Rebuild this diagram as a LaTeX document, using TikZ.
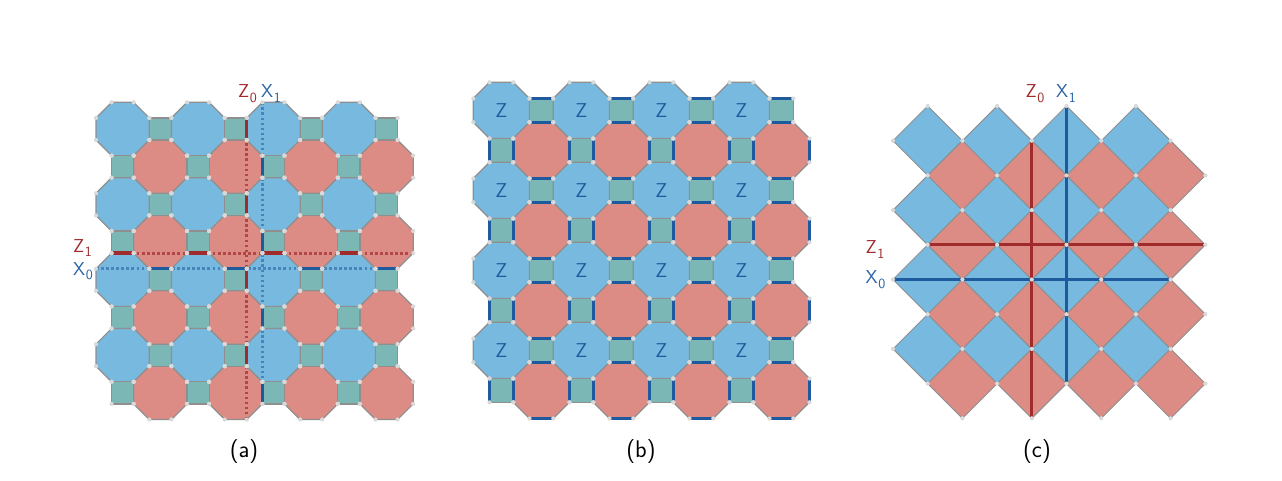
\documentclass[tikz,border=0pt]{standalone}
\definecolor{octblue}{HTML}{78B9DF}
\definecolor{octred}{HTML}{DD8C85}
\definecolor{octteal}{HTML}{7BB7B4}
\definecolor{edgegray}{HTML}{8F8F8F}
\definecolor{dotgray}{HTML}{D9D9D9}
\definecolor{darkred}{HTML}{A02B2C}
\definecolor{darkblue}{HTML}{1F5A9E}
\newcommand{\octshape}[5]{% x y a s style
  \path[#5] ({#1+#3},{#2}) -- ({#1+#3+#4},{#2}) -- ({#1+2*#3+#4},{#2+#3}) -- ({#1+2*#3+#4},{#2+#3+#4})
    -- ({#1+#3+#4},{#2+2*#3+#4}) -- ({#1+#3},{#2+2*#3+#4}) -- ({#1},{#2+#3+#4}) -- ({#1},{#2+#3}) -- cycle;}
\newcommand{\octdots}[4]{% x y a s
  \foreach \px/\py in {{#3}/0,{#3+#4}/0,{2*#3+#4}/{#3},{2*#3+#4}/{#3+#4},{#3+#4}/{2*#3+#4},{#3}/{2*#3+#4},0/{#3+#4},0/{#3}}
    {\fill[dotgray] ({#1+\px},{#2+\py}) circle[radius=2.1];}}
\newcommand{\sqshape}[4]{% x y s style
  \path[#4] ({#1},{#2}) rectangle ({#1+#3},{#2+#3});}
\newcommand{\sqdots}[3]{%
  \foreach \px/\py in {0/0,{#3}/0,0/{#3},{#3}/{#3}}
    {\fill[dotgray] ({#1+\px},{#2+\py}) circle[radius=2.1];}}
% lattice: x0 y0 a s
\newcommand{\lattice}[4]{%
  \foreach \i in {0,1,2,3}{\foreach \j in {0,1,2,3}{%
    \pgfmathsetmacro\bx{#1+(2*#3+2*#4)*\i}%
    \pgfmathsetmacro\by{#2+(2*#3+2*#4)*\j}%
    \octshape{\bx}{\by}{#3}{#4}{blueface}%
    \octshape{\bx+#3+#4}{\by+#3+#4}{#3}{#4}{redface}%
    \sqshape{\bx+2*#3+#4}{\by+#3}{#4}{tealface}%
    \sqshape{\bx+#3}{\by+2*#3+#4}{#4}{tealface}%
  }}}
\newcommand{\latticedots}[4]{%
  \foreach \i in {0,1,2,3}{\foreach \j in {0,1,2,3}{%
    \pgfmathsetmacro\bx{#1+(2*#3+2*#4)*\i}%
    \pgfmathsetmacro\by{#2+(2*#3+2*#4)*\j}%
    \octdots{\bx}{\by}{#3}{#4}%
    \octdots{\bx+#3+#4}{\by+#3+#4}{#3}{#4}%
    \sqdots{\bx+2*#3+#4}{\by+#3}{#4}%
    \sqdots{\bx+#3}{\by+2*#3+#4}{#4}%
  }}}
\newcommand{\lbl}[2]{\fontsize{14}{15}\selectfont #1\kern.03em\raisebox{-.24em}{\fontsize{10.5}{11}\selectfont #2}}
\tikzset{
  blueface/.style={fill=octblue,draw=edgegray,line width=0.9pt},
  redface/.style={fill=octred,draw=edgegray,line width=0.9pt},
  tealface/.style={fill=octteal,draw=edgegray,line width=0.9pt},
  bluethin/.style={fill=octblue,draw=edgegray,line width=0.7pt},
  redthin/.style={fill=octred,draw=edgegray,line width=0.7pt},
  heavyred/.style={draw=darkred,line width=2.5pt},
  heavyblue/.style={draw=darkblue,line width=2.2pt},
  dotred/.style={draw=darkred,draw opacity=.7,line width=2.4pt,dash pattern=on 1.9pt off 1.9pt},
  dotblue/.style={draw=darkblue,draw opacity=.55,line width=1.9pt,dash pattern=on 1.9pt off 1.9pt},
  redlabel/.style={text=darkred,font=\sffamily,inner sep=0pt},
  bluelabel/.style={text=darkblue!90!octblue,font=\sffamily,inner sep=0pt},
  zlabel/.style={text=darkblue,font=\sffamily\fontsize{15}{17}\selectfont,inner sep=0pt},
  caption/.style={font=\sffamily\fontsize{18}{20}\selectfont,text=black,inner sep=0pt},
  vertexdot/.style={fill=dotgray,draw=none},
}
\begin{document}
\begin{tikzpicture}[x=0.75pt,y=-0.75pt,line join=miter]
\useasboundingbox (0,0) rectangle (1282,480);
\fill[white] (0,0) rectangle (1282,480);
% ---------- panel (a)
\lattice{96}{102.3}{15.6}{22.1}
\coordinate (z0a) at (246.8,117.9);  \coordinate (z0b) at (246.8,419.5);
\coordinate (x1a) at (262.4,102.3);  \coordinate (x1b) at (262.4,403.9);
\coordinate (z1a) at (111.6,253.1);  \coordinate (z1b) at (413.2,253.1);
\coordinate (x0a) at (96,268.7);     \coordinate (x0b) at (397.6,268.7);
\draw[dotred] (z0a) -- (z0b);
\draw[dotred] (z1a) -- (z1b);
\draw[dotblue] (x1a) -- (x1b);
\draw[dotblue] (x0a) -- (x0b);
\foreach \k in {0,1,2,3}{
  \pgfmathsetmacro\off{75.4*\k}
  \draw[heavyred] (246.8,{117.9+\off}) -- (246.8,{140+\off});
  \draw[heavyred] ({111.6+\off},253.1) -- ({133.7+\off},253.1);
  \draw[heavyblue] (262.4,{155.6+\off}) -- (262.4,{177.7+\off});
  \draw[heavyblue] ({149.3+\off},268.7) -- ({171.4+\off},268.7);
}
\latticedots{96}{102.3}{15.6}{22.1}
\node[redlabel]  (az0) at (247.5,93.5)  {\lbl{Z}{0}};
\node[bluelabel] (ax1) at (271,93.5)    {\lbl{X}{1}};
\node[redlabel]  (az1) at (82.5,248)    {\lbl{Z}{1}};
\node[bluelabel] (ax0) at (83,271)      {\lbl{X}{0}};
\node[caption]   (capa) at (244,451.5)  {(a)};
% ---------- panel (b)
\lattice{473.3}{82.3}{16.2}{23.8}
\foreach \i in {0,1,2,3}{\foreach \j in {0,1,2,3}{
  \pgfmathsetmacro\bx{473.3+80*\i}
  \pgfmathsetmacro\by{82.3+80*\j}
  \draw[heavyblue] ({\bx+56.2},{\by+16.2}) -- ({\bx+80},{\by+16.2});
  \draw[heavyblue] ({\bx+56.2},{\by+40}) -- ({\bx+80},{\by+40});
  \draw[heavyblue] ({\bx+16.2},{\by+56.2}) -- ({\bx+16.2},{\by+80});
  \draw[heavyblue] ({\bx+40},{\by+56.2}) -- ({\bx+40},{\by+80});
  \node[zlabel] (zb\i\j) at ({\bx+28.1},{\by+28.5}) {Z};
}}
\foreach \k in {0,1,2,3}{
  \pgfmathsetmacro\off{80*\k}
  \draw[heavyblue] (809.5,{138.5+\off}) -- (809.5,{162.3+\off});
  \draw[heavyblue] ({529.5+\off},418.5) -- ({553.3+\off},418.5);
}
\latticedots{473.3}{82.3}{16.2}{23.8}
\node[caption] (capb) at (641,451.5) {(b)};
% ---------- panel (c)
\foreach \n in {1,3,5,7}{\foreach \m in {1,3,5,7}{
  \path[bluethin] ({893+34.7*\n},{106+34.7*(\m-1)}) -- ({893+34.7*(\n+1)},{106+34.7*\m})
    -- ({893+34.7*\n},{106+34.7*(\m+1)}) -- ({893+34.7*(\n-1)},{106+34.7*\m}) -- cycle;
}}
\foreach \n in {2,4,6,8}{\foreach \m in {2,4,6,8}{
  \path[redthin] ({893+34.7*\n},{106+34.7*(\m-1)}) -- ({893+34.7*(\n+1)},{106+34.7*\m})
    -- ({893+34.7*\n},{106+34.7*(\m+1)}) -- ({893+34.7*(\n-1)},{106+34.7*\m}) -- cycle;
}}
\coordinate (cz0a) at (1031.8,140.7); \coordinate (cz0b) at (1031.8,418.3);
\coordinate (cx1a) at (1066.5,106);   \coordinate (cx1b) at (1066.5,383.6);
\coordinate (cz1a) at (927.7,244.8);  \coordinate (cz1b) at (1205.3,244.8);
\coordinate (cx0a) at (893,279.5);    \coordinate (cx0b) at (1170.6,279.5);
\draw[heavyred,line width=2.4pt] (cz0a) -- (cz0b);
\draw[heavyred,line width=2.4pt] (cz1a) -- (cz1b);
\draw[heavyblue,line width=1.9pt] (cx1a) -- (cx1b);
\draw[heavyblue,line width=1.9pt] (cx0a) -- (cx0b);
\foreach \n/\mlist in {0/{1,3,5,7},1/{0,2,4,6,8},2/{1,3,5,7,9},3/{0,2,4,6,8},4/{1,3,5,7,9},5/{0,2,4,6,8},6/{1,3,5,7,9},7/{0,2,4,6,8},8/{1,3,5,7,9},9/{2,4,6,8}}{
  \foreach \m in \mlist {
    \fill[vertexdot] ({893+34.7*\n},{106+34.7*\m}) circle[radius=2.1];
  }
}
\node[redlabel]  (cz0) at (1035,93.5) {\lbl{Z}{0}};
\node[bluelabel] (cx1) at (1066,93.5) {\lbl{X}{1}};
\node[redlabel]  (cz1) at (875,249.5) {\lbl{Z}{1}};
\node[bluelabel] (cx0) at (875.5,279.5) {\lbl{X}{0}};
\node[caption]   (capc) at (1037,451.5) {(c)};
\end{tikzpicture}
\end{document}
